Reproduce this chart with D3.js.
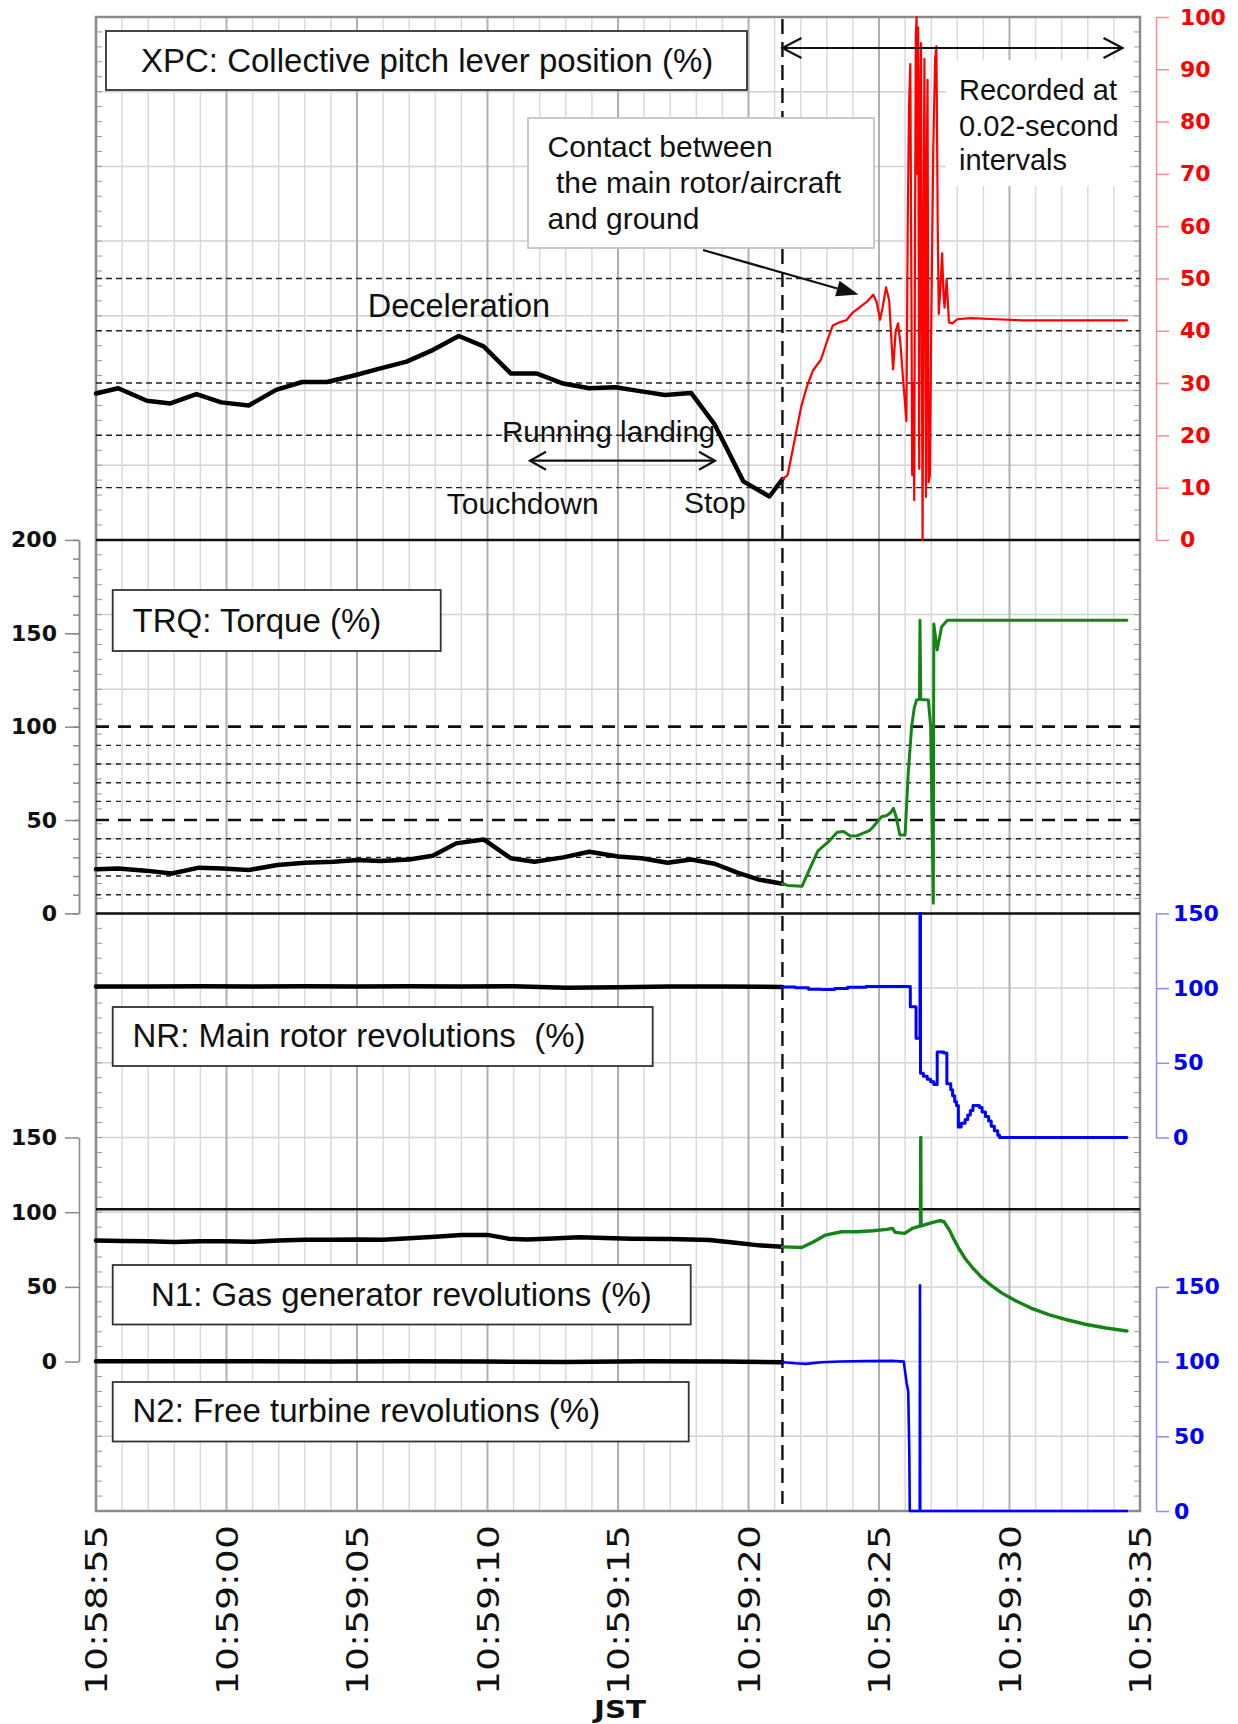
<!DOCTYPE html>
<html><head><meta charset="utf-8">
<script src="https://cdn.jsdelivr.net/npm/d3@7"></script>
<style>body{margin:0;background:#fff}svg{display:block}</style>
</head><body>
<svg id="c" width="1238" height="1724"></svg>
<script>
// ---------- data (t = seconds after 10:58:55) ----------
const timeLabels = ["10:58:55","10:59:00","10:59:05","10:59:10","10:59:15","10:59:20","10:59:25","10:59:30","10:59:35"];
const eventTime = 26.3;
const xpcLevels = [10,20,30,40,50];
const trqMajorLevels = [50,100];
const trqMinorLevels = [10,20,30,40,60,70,80,90];

const xpcBefore = [[0,28.0],[0.85,29.0],[1.95,26.6],[2.85,26.1],[3.85,27.9],[4.8,26.3],[5.85,25.7],[6.9,28.7],[7.9,30.2],[8.85,30.2],[9.85,31.4],[10.9,32.8],[11.9,34.1],[12.9,36.3],[13.9,39.0],[14.85,37.0],[15.9,31.8],[16.9,31.8],[17.9,29.9],[18.9,29.0],[19.9,29.2],[20.9,28.4],[21.8,27.7],[22.8,28.1],[23.7,22.1],[24.8,11.2],[25.8,8.3],[26.3,11.6]];
const xpcAfter = [[26.3,11.6],[26.5,12.4],[26.72,17.9],[27.02,25.5],[27.25,29.5],[27.47,32.4],[27.78,34.5],[28.0,37.9],[28.23,41.0],[28.53,41.7],[28.75,42],[28.98,43.4],[29.27,44.5],[29.53,45.5],[29.78,46.9],[29.91,45.5],[30.04,42.1],[30.14,44.5],[30.27,48.3],[30.39,45.8],[30.54,32.6],[30.64,40],[30.73,41.4],[30.82,37.6],[30.92,30.9],[31.05,22.7],[31.1,60],[31.15,82.8],[31.2,91],[31.24,50],[31.27,12.4],[31.31,30],[31.35,7.6],[31.38,60],[31.41,96.4],[31.44,100],[31.47,70],[31.5,98],[31.54,13.6],[31.58,85],[31.61,95],[31.64,40],[31.67,0],[31.71,60],[31.74,92],[31.77,50],[31.8,8.2],[31.83,70],[31.86,88],[31.9,11],[31.95,12.4],[32.0,40],[32.08,75],[32.15,92],[32.2,94.4],[32.25,60],[32.29,43.2],[32.35,48],[32.42,54.8],[32.47,47],[32.51,44.4],[32.59,49.8],[32.68,41.6],[32.81,41.4],[33.0,42.2],[33.5,42.4],[34.5,42.2],[35.5,42],[36.5,42],[37.5,42],[38.5,42],[39.5,42]];

const trqBefore = [[0,23.6],[0.85,24.1],[1.9,22.9],[2.9,21.4],[3.95,24.5],[4.85,24.1],[5.85,23.2],[6.95,25.9],[8.0,27.1],[9.1,27.7],[10.0,28.6],[10.9,28.0],[12.0,28.9],[12.9,30.9],[13.8,37.5],[14.85,39.6],[15.9,29.5],[16.8,27.7],[17.9,30],[18.9,33],[20.0,30.5],[20.9,29.5],[21.9,27.1],[22.8,28.9],[23.7,26.6],[24.6,21.7],[25.4,18.1],[26.3,15.9]];
const trqAfter = [[26.3,15.9],[26.5,15.0],[27.05,14.5],[27.35,24],[27.66,33.5],[28.1,38.9],[28.4,43.5],[28.64,43.8],[28.9,41.5],[29.17,41.6],[29.63,44.3],[29.78,46.4],[30.1,51.8],[30.3,52.4],[30.45,54],[30.55,56.3],[30.65,52],[30.8,42],[31.0,42],[31.12,75],[31.25,100],[31.35,110],[31.44,114.3],[31.55,114.6],[31.57,157],[31.6,114.6],[31.89,114.3],[31.98,100],[32.08,5.4],[32.1,155],[32.23,141],[32.4,153.5],[32.62,157],[33.5,157],[39.5,157]];

const nrBefore = [[0,101],[2,101],[4,101.3],[6,101],[8,101.2],[10,101],[12,101.3],[14,101],[16,101.2],[18,100.2],[20,100.6],[22,101],[24,101],[26.3,100.8]];
const nrAfter = [[26.3,100.8],[26.8,100.2],[27.3,99.2],[27.8,99],[28.3,99.8],[28.8,100.6],[29.5,101],[31.2,87.5],[31.42,66.5],[31.57,150],[31.59,43],[31.7,41],[31.85,39],[31.98,37.3],[32.1,35.5],[32.23,57.2],[32.48,56.5],[32.6,36],[32.75,32],[32.82,28],[32.9,24],[32.97,21.4],[33.04,7],[33.15,9.5],[33.3,12],[33.4,15],[33.5,18],[33.6,21.5],[33.85,20],[33.95,17],[34.08,14],[34.2,11],[34.3,7.5],[34.42,4.5],[34.55,1.5],[34.62,0],[39.5,0]];

const n1Before = [[0,81],[1,80.8],[2,80.5],[3,80],[4,80.5],[5,80.6],[6,80.2],[7,81],[8,81.5],[9,81.6],[10,81.8],[11,81.6],[12,82.5],[13,83.5],[14,84.8],[15,84.8],[15.8,82.3],[16.5,81.8],[17.5,82.4],[18.5,83.2],[19.5,82.8],[20.5,82.3],[22,82],[23.5,81.4],[24.5,79.5],[25.4,77.8],[26.3,76.8]];
const n1After = [[26.3,76.8],[27.04,76.4],[27.5,80.2],[27.95,84.7],[28.56,86.9],[29.16,86.9],[29.77,87.6],[30.3,88.5],[30.52,89.2],[30.62,86.5],[30.98,85.8],[31.28,89.2],[31.59,90.8],[31.6,150],[31.61,90.8],[32.03,93],[32.34,94.3],[32.49,93.6],[32.7,88],[32.85,82.5],[33.05,76],[33.3,69],[33.6,62.5],[33.95,56],[34.3,51],[34.7,46],[35.2,41],[35.8,36],[36.5,31.5],[37.2,28],[37.9,25],[38.7,22.5],[39.5,20.5]];

const n2Before = [[0,100.3],[3,100.2],[6,100.3],[9,100.1],[12,100.3],[15,100],[18,99.8],[21,100.2],[24,100],[26.3,99.6]];
const n2After = [[26.3,99.6],[26.8,98.9],[27.2,98.5],[27.8,99.6],[28.5,100.1],[29.5,100.3],[30.5,100.5],[30.95,100],[31.06,85.5],[31.12,80],[31.16,40],[31.18,0],[31.56,0],[31.57,151],[31.58,0],[39.5,0]];

// ---------- layout ----------
const L = 96, R = 1140, T = 17, B = 1511;
const svg = d3.select("#c");
const x = d3.scaleLinear().domain([0,40]).range([L,R]);
const grid = d3.scaleLinear().domain([0,20]).range([T,B]);
const yXPC = d3.scaleLinear().domain([0,100]).range([grid(7),grid(0)]);
const yTRQ = d3.scaleLinear().domain([0,200]).range([grid(12),grid(7)]);
const yNR  = d3.scaleLinear().domain([0,150]).range([grid(15),grid(12)]);
const yN1  = d3.scaleLinear().domain([0,150]).range([grid(18),grid(15)]);
const yN2  = d3.scaleLinear().domain([0,150]).range([grid(20),grid(17)]);

const ARIAL = "'Liberation Sans', Arial, sans-serif";
const VERD = "'DejaVu Sans', Verdana, sans-serif";

// background grid
const g0 = svg.append("g");
g0.selectAll("line.h").data(d3.range(1,20)).join("line")
  .attr("x1",L).attr("x2",R).attr("y1",d=>grid(d)).attr("y2",d=>grid(d))
  .attr("stroke","#d2d2d2").attr("stroke-width",1.5);
g0.selectAll("line.v").data(d3.range(1,40)).join("line")
  .attr("x1",d=>x(d)).attr("x2",d=>x(d)).attr("y1",T).attr("y2",B)
  .attr("stroke",d=>d%5===0?"#b0b0b0":"#dadada").attr("stroke-width",d=>d%5===0?2:1.5);
g0.selectAll("line.tl").data(d3.range(1,100)).join("line")
  .attr("x1",L).attr("x2",L+6).attr("y1",d=>grid(d/5)).attr("y2",d=>grid(d/5))
  .attr("stroke","#9a9a9a").attr("stroke-width",1);
g0.selectAll("line.tr").data(d3.range(1,100)).join("line")
  .attr("x1",R-6).attr("x2",R).attr("y1",d=>grid(d/5)).attr("y2",d=>grid(d/5))
  .attr("stroke","#9a9a9a").attr("stroke-width",1);
g0.append("rect").attr("x",L).attr("y",T).attr("width",R-L).attr("height",B-T)
  .attr("fill","none").attr("stroke","#8a8a8a").attr("stroke-width",2.5);

// reference dashed lines
const g1 = svg.append("g");
g1.selectAll("line.x").data(xpcLevels).join("line")
  .attr("x1",L).attr("x2",R).attr("y1",d=>yXPC(d)).attr("y2",d=>yXPC(d))
  .attr("stroke","#222").attr("stroke-width",1.4).attr("stroke-dasharray","6,4");
g1.selectAll("line.tm").data(trqMinorLevels).join("line")
  .attr("x1",L).attr("x2",R).attr("y1",d=>yTRQ(d)).attr("y2",d=>yTRQ(d))
  .attr("stroke","#222").attr("stroke-width",1.4).attr("stroke-dasharray","5,5");
g1.selectAll("line.tM").data(trqMajorLevels).join("line")
  .attr("x1",L).attr("x2",R).attr("y1",d=>yTRQ(d)).attr("y2",d=>yTRQ(d))
  .attr("stroke","#111").attr("stroke-width",2.6).attr("stroke-dasharray","13,9");
[yXPC(0), yTRQ(0), yN1(102)].forEach(yy=>{
  g1.append("line").attr("x1",L).attr("x2",R).attr("y1",yy).attr("y2",yy)
    .attr("stroke","#111").attr("stroke-width",2.5);
});

// event dashed vertical line
svg.append("line").attr("x1",x(eventTime)).attr("x2",x(eventTime)).attr("y1",T+2).attr("y2",B-7)
  .attr("stroke","#111").attr("stroke-width",2.4).attr("stroke-dasharray","15,8");

// white boxes
function box(x0,y0,w,h,stroke){
  svg.append("rect").attr("x",x0).attr("y",y0).attr("width",w).attr("height",h)
    .attr("fill","#fff").attr("stroke",stroke||"none").attr("stroke-width",1.8);
}
box(106,31,641,59,"#333");
box(112.7,590,328,61,"#333");
box(112.7,1007,540,59,"#333");
box(112.7,1265,578,59.5,"#333");
box(112.7,1382,576,59.5,"#333");
box(528,118,346,130,"#c4c4c4");
box(946,60,184,126,null);

// data lines
function draw(data, y, color, width, curve){
  const line = d3.line().x(d=>x(d[0])).y(d=>y(d[1])).curve(curve||d3.curveLinear);
  svg.append("path").datum(data).attr("d",line).attr("fill","none")
    .attr("stroke",color).attr("stroke-width",width)
    .attr("stroke-linejoin","round").attr("stroke-linecap","round");
}
const GREEN = "#168316", BLUE = "#0000ff", RED = "#ff0000";
draw(xpcBefore, yXPC, "#000", 4.5);
draw(xpcAfter, yXPC, RED, 2.2);
draw(trqBefore, yTRQ, "#000", 4.5);
draw(trqAfter, yTRQ, GREEN, 3);
draw(nrBefore, yNR, "#000", 4.5);
draw(nrAfter, yNR, BLUE, 3, d3.curveStepAfter);
draw(n1Before, yN1, "#000", 4.5);
draw(n1After, yN1, GREEN, 3.4);
draw(n2Before, yN2, "#000", 4.5);
draw(n2After, yN2, BLUE, 2.6);

// texts
function txt(s,x0,y0,size,opts){
  opts=opts||{};
  const t = svg.append("text").attr("x",x0).attr("y",y0).text(s)
    .attr("font-family",opts.family||ARIAL).attr("font-size",size)
    .attr("fill",opts.fill||"#111");
  if(opts.anchor) t.attr("text-anchor",opts.anchor);
  if(opts.weight) t.attr("font-weight",opts.weight);
  return t;
}
txt("XPC: Collective pitch lever position (%)",141,72,33);
txt("TRQ: Torque (%)",132.5,632,33);
txt("NR: Main rotor revolutions\u00a0 (%)",132.5,1047,33);
txt("N1: Gas generator revolutions (%)",151,1306,33);
txt("N2: Free turbine revolutions (%)",132.5,1422,33);
txt("Contact between",547.6,157,30);
txt("the main rotor/aircraft",556,193,30);
txt("and ground",547.6,229,30);
txt("Recorded at",959,100,29);
txt("0.02-second",959,135.5,29);
txt("intervals",959,169.5,29);
txt("Deceleration",367.7,317,32.5);
txt("Running landing",502,442,29.5);
txt("Touchdown",446.8,514,30);
txt("Stop",684,512.5,30);

// arrows
const ag = svg.append("g").attr("stroke","#111").attr("fill","none").attr("stroke-width",2.2);
const yTop = 48;
const xa0 = x(eventTime), xa1 = x(39.33);
ag.append("line").attr("x1",xa0).attr("x2",xa1).attr("y1",yTop).attr("y2",yTop);
ag.append("path").attr("d",`M${xa0+19},${yTop-10}L${xa0},${yTop}L${xa0+19},${yTop+10}`);
ag.append("path").attr("d",`M${xa1-19},${yTop-10}L${xa1},${yTop}L${xa1-19},${yTop+10}`);
const yRun = 460.7, xr0 = 530, xr1 = 715;
ag.append("line").attr("x1",xr0).attr("x2",xr1).attr("y1",yRun).attr("y2",yRun);
ag.append("path").attr("d",`M${xr0+16},${yRun-9}L${xr0},${yRun}L${xr0+16},${yRun+9}`);
ag.append("path").attr("d",`M${xr1-16},${yRun-9}L${xr1},${yRun}L${xr1-16},${yRun+9}`);
{
  const x0=703,y0=250,x1=858.5,y1=294.6;
  const ang=Math.atan2(y1-y0,x1-x0), len=22, hw=8;
  const bx=x1-len*Math.cos(ang), by=y1-len*Math.sin(ang);
  ag.append("line").attr("x1",x0).attr("y1",y0).attr("x2",bx).attr("y2",by);
  svg.append("path").attr("fill","#111")
    .attr("d",`M${x1},${y1}L${bx+hw*Math.sin(ang)},${by-hw*Math.cos(ang)}L${bx-hw*Math.sin(ang)},${by+hw*Math.cos(ang)}Z`);
}

// axes
function styleAxis(g, lineColor, textColor){
  g.attr("font-family",VERD).attr("font-size",22).attr("font-weight","bold");
  g.select(".domain").attr("stroke",lineColor).attr("stroke-width",1.5);
  g.selectAll(".tick line").attr("stroke",lineColor).attr("stroke-width",1.5);
  g.selectAll(".tick text").attr("fill",textColor);
}
const axX = 79;
svg.append("g").attr("transform",`translate(${axX},0)`)
  .call(d3.axisLeft(yTRQ).tickValues(d3.range(0,201,10)).tickSize(6).tickSizeOuter(0).tickFormat(""))
  .call(g=>styleAxis(g,"#8a8a8a","#111"));
svg.append("g").attr("transform",`translate(${axX},0)`)
  .call(d3.axisLeft(yTRQ).tickValues([0,50,100,150,200]).tickSize(14).tickPadding(8).tickSizeOuter(0))
  .call(g=>styleAxis(g,"#8a8a8a","#111"));
svg.append("g").attr("transform",`translate(${axX},0)`)
  .call(d3.axisLeft(yN1).tickValues([0,50,100,150]).tickSize(14).tickPadding(8).tickSizeOuter(0))
  .call(g=>styleAxis(g,"#8a8a8a","#111"));
const axR = 1156;
svg.append("g").attr("transform",`translate(${axR},0)`)
  .call(d3.axisRight(yXPC).tickValues(d3.range(0,101,10)).tickSize(13).tickPadding(11).tickSizeOuter(0))
  .call(g=>styleAxis(g,"#ff8c8c",RED));
svg.append("g").attr("transform",`translate(${axR},0)`)
  .call(d3.axisRight(yNR).tickValues([0,50,100,150]).tickSize(13).tickPadding(4).tickSizeOuter(0))
  .call(g=>styleAxis(g,"#8c8cff",BLUE));
svg.append("g").attr("transform",`translate(${axR},0)`)
  .call(d3.axisRight(yN2).tickValues([0,50,100,150]).tickSize(13).tickPadding(5).tickSizeOuter(0))
  .call(g=>styleAxis(g,"#8c8cff",BLUE));

// time axis labels
const xa = svg.append("g").attr("transform",`translate(0,${B})`)
  .call(d3.axisBottom(x).tickValues(d3.range(0,41,5)).tickSize(0).tickFormat((d,i)=>timeLabels[i]));
xa.select(".domain").remove();
xa.selectAll(".tick text")
  .attr("font-family",VERD).attr("font-size",30).attr("fill","#111")
  .attr("transform","rotate(-90)").attr("text-anchor","end")
  .attr("x",-14).attr("y",0).attr("dy","0.36em")
  .attr("textLength",170).attr("lengthAdjust","spacingAndGlyphs");
txt("JST",620,1718,24,{family:VERD,weight:"bold",anchor:"middle"}).attr("textLength",52).attr("lengthAdjust","spacingAndGlyphs");
</script>
</body></html>
